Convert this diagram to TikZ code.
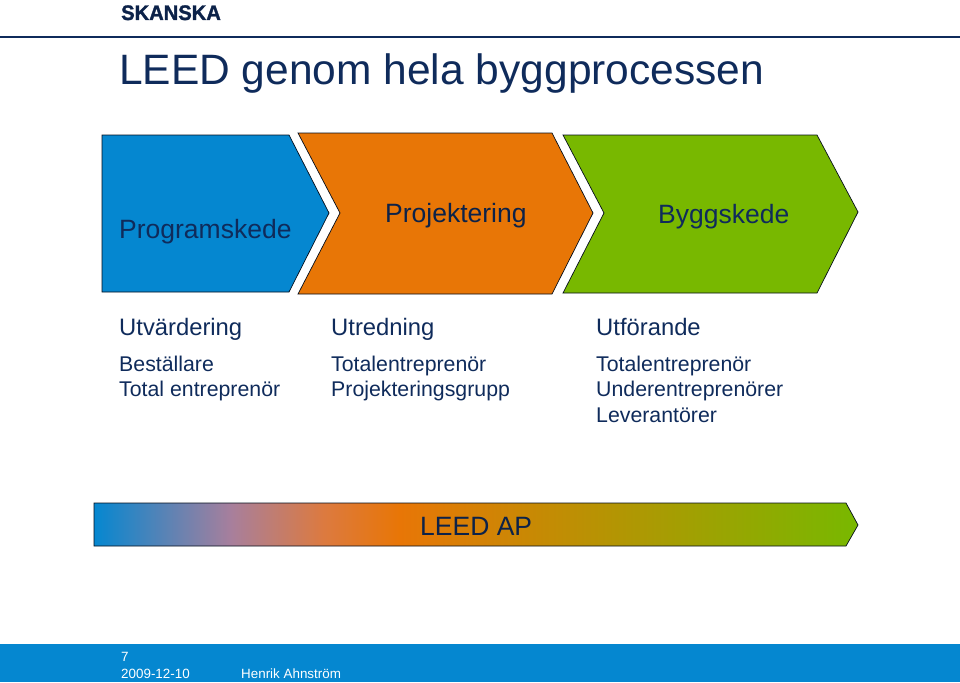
\documentclass[tikz,border=0pt]{standalone}
\usepackage{fontspec}
\setmainfont{Liberation Sans}
\definecolor{navy}{HTML}{0F2B5B}
\definecolor{skblue}{HTML}{0587D0}
\definecolor{skorange}{HTML}{E87606}
\definecolor{skgreen}{HTML}{78B800}
\definecolor{skmauve}{HTML}{A87F9C}
\definecolor{sksalmon}{HTML}{DC7A40}
\pgfdeclarehorizontalshading{leedbar}{100bp}{color(0bp)=(skblue); color(25bp)=(skblue); color(34bp)=(skmauve); color(40bp)=(sksalmon); color(45bp)=(skorange); color(75bp)=(skgreen); color(100bp)=(skgreen)}
\tikzset{
	lbl/.style={anchor=base west, inner sep=0pt, text=navy},
	phaselbl/.style={lbl, font=\fontsize{26.5}{26.5}\selectfont},
	headlbl/.style={lbl, font=\fontsize{23.8}{23.8}\selectfont},
	rolelbl/.style={lbl, font=\fontsize{21.3}{21.3}\selectfont},
	footlbl/.style={lbl, text=white, font=\fontsize{13.4}{13.4}\selectfont},
	phase/.style={draw=black!70!navy, line width=0.7pt},
}
\begin{document}
\begin{tikzpicture}[x=1pt,y=-1pt]
	\useasboundingbox (0,0) rectangle (960,682);
	% Header
	\node[lbl, text=navy!80!black, font=\bfseries\fontsize{21}{21}\selectfont\addfontfeature{FakeBold=1.5}] (logo) at (121,20) {\scalebox{0.96}[1]{SKANSKA}};
	\draw[navy, line width=1.2pt] (0,37) -- (960,37);
	\node[lbl, font=\fontsize{42.5}{42.5}\selectfont] (title) at (119,85) {LEED genom hela byggprocessen};
	% Programskede
	\draw[phase, fill=skblue] (102,135) -- (289,135) -- (329,213) -- (289,292) -- (102,292) -- cycle;
	\node[phaselbl] (prog) at (119,238) {Programskede};
	% Projektering
	\draw[phase, fill=skorange] (298,133) -- (552,133) -- (593,213) -- (552,294) -- (298,294) -- (340,213) -- cycle;
	\node[phaselbl, text=navy!80!black] (proj) at (385,222) {Projektering};
	% Byggskede
	\draw[phase, fill=skgreen] (563,135) -- (817,135) -- (858,212) -- (817,293) -- (563,293) -- (604,213) -- cycle;
	\node[phaselbl] (bygg) at (658,223) {Byggskede};
	% Column headings
	\node[headlbl] (utv) at (119,335) {Utvärdering};
	\node[headlbl] (utr) at (331,335) {Utredning};
	\node[headlbl] (utf) at (596,335) {Utförande};
	% Roles
	\node[rolelbl] (best) at (119,371) {Beställare};
	\node[rolelbl] (total) at (119,396) {Total entreprenör};
	\node[rolelbl] (tot1) at (331,371) {Totalentreprenör};
	\node[rolelbl] (pgrp) at (331,396) {Projekteringsgrupp};
	\node[rolelbl] (tot2) at (596,371) {Totalentreprenör};
	\node[rolelbl] (under) at (596,396) {Underentreprenörer};
	\node[rolelbl] (lev) at (596,422) {Leverantörer};
	% LEED AP bar
	\draw[phase, shading=leedbar] (94,503) -- (846,503) -- (858,525) -- (846,546) -- (94,546) -- cycle;
	\node[phaselbl, text=navy!80!black] (leed) at (420,535) {LEED AP};
	% Footer
	\fill[skblue] (0,644) rectangle (960,682);
	\node[footlbl] (page) at (121,661) {7};
	\node[footlbl] (date) at (121,678.5) {2009-12-10};
	\node[footlbl] (name) at (241,678.5) {Henrik Ahnström};
\end{tikzpicture}
\end{document}
